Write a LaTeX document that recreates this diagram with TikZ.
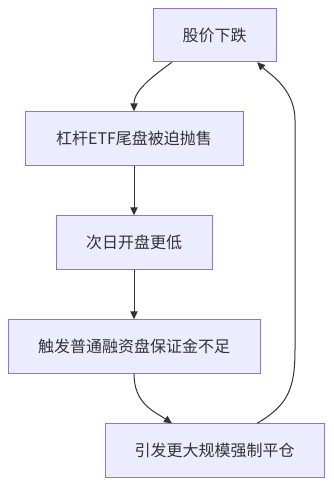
\documentclass[tikz,border=0pt]{standalone}
\usepackage{fontspec}
\setmainfont{Noto Sans CJK SC}
\usetikzlibrary{arrows.meta}
\definecolor{fondboite}{HTML}{ECECFF}
\definecolor{bordboite}{HTML}{9370DB}
\definecolor{trait}{HTML}{333333}
\begin{document}
\begin{tikzpicture}[x=0.75pt,y=-0.75pt]
	% Style des etapes et des fleches
	\tikzset{ etape/.style={draw=bordboite, fill=fondboite, line width=0.75pt, inner sep=0pt, minimum height=40pt, text=trait, font=\fontsize{12}{14}\selectfont},
		fleche/.style={draw=trait, line width=0.75pt, -{Triangle[length=6pt,width=5.5pt]}} }
	\useasboundingbox (0,0) rectangle (333,486);
	\node[etape, minimum width=92.25pt] (chute) at (214.5,35) {股价下跌};
	\node[etape, minimum width=163.5pt] (etf) at (134,138.5) {杠杆ETF尾盘被迫抛售};
	\node[etape, minimum width=117pt] (ouverture) at (134,242.5) {次日开盘更低};
	\node[etape, minimum width=189pt] (marge) at (134,346.5) {触发普通融资盘保证金不足};
	\node[etape, minimum width=164.25pt] (liquid) at (214.5,450.5) {引发更大规模强制平仓};
	\draw[fleche] ([xshift=-31.9pt]chute.south) .. controls +(-16,12) and +(0,-22) .. (etf.north);
	\draw[fleche] (etf) -- (ouverture);
	\draw[fleche] (ouverture) -- (marge);
	\draw[fleche] (marge.south) .. controls +(0,30) and +(-18,-12) .. ([xshift=-31.9pt]liquid.north);
	\draw[fleche] ([xshift=32pt]liquid.north) .. controls +(30,-18) and +(0,40) .. (295,350) -- (295,120) .. controls +(0,-32) and +(10,10) .. ([xshift=32pt]chute.south);
\end{tikzpicture}
\end{document}
